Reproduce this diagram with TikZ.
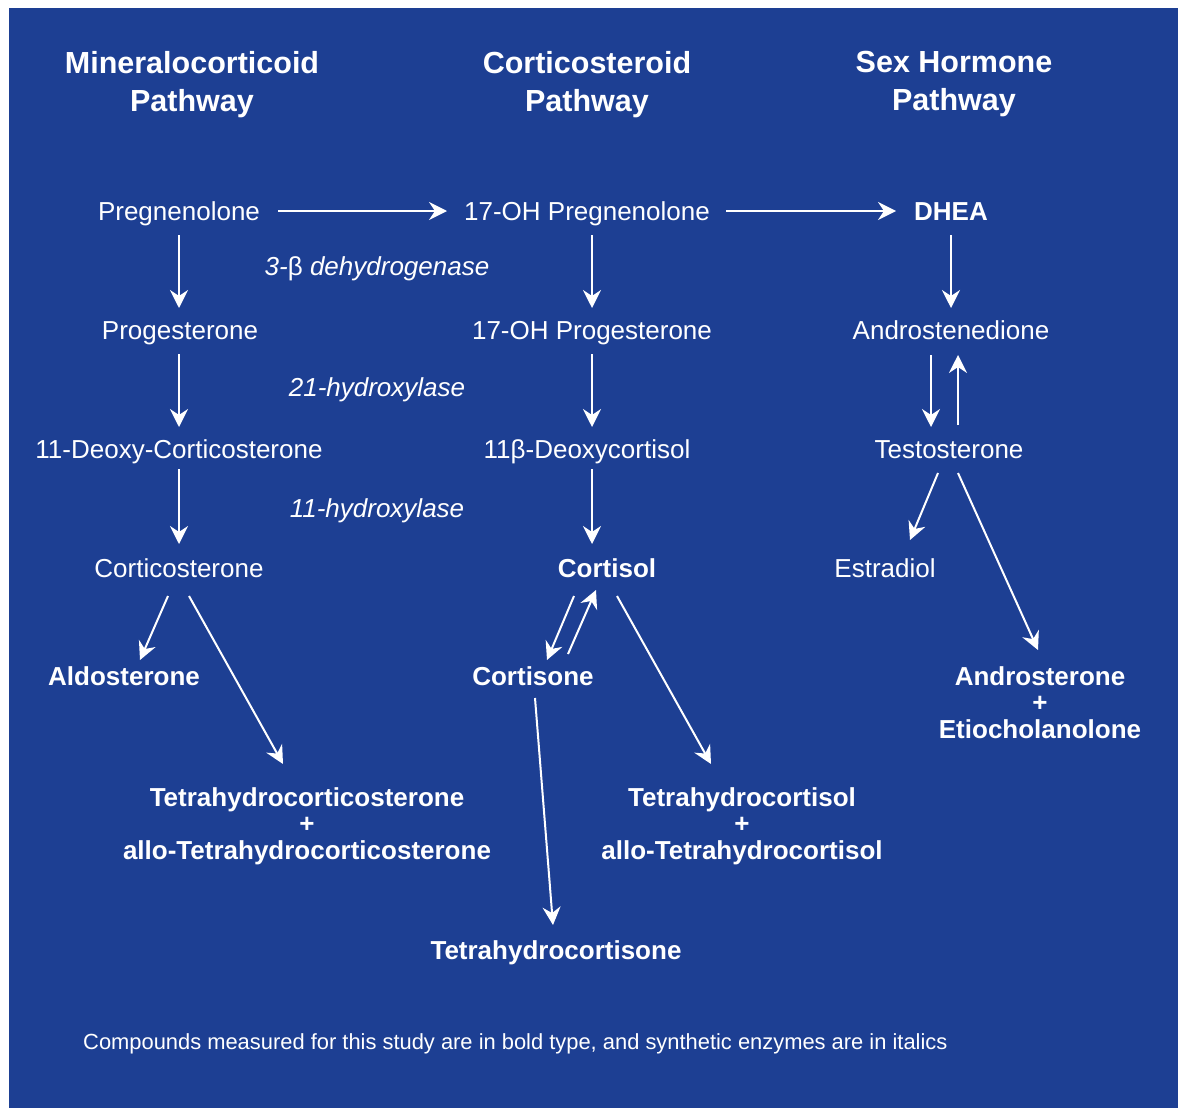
\documentclass[tikz,border=0pt]{standalone}
\usepackage{fontspec}
\setmainfont{Liberation Sans}
\usetikzlibrary{arrows.meta}
\definecolor{bg}{RGB}{29,63,147}
\begin{document}
\begin{tikzpicture}[x=1pt,y=-1pt,
 lbl/.style={text=white, inner sep=0pt, font=\fontsize{26}{27}\selectfont, text height=19pt, text depth=0pt},
 blbl/.style={lbl, font=\fontsize{26}{27}\selectfont\bfseries},
 enz/.style={lbl, font=\fontsize{26}{27}\selectfont\itshape},
 head/.style={text=white, inner sep=0pt, align=center, anchor=north, font=\fontsize{30.5}{38}\selectfont\bfseries},
 multi/.style={text=white, inner sep=0pt, align=center, anchor=north, font=\fontsize{26}{26.5}\selectfont\bfseries},
 arr/.style={draw=white, line width=2pt, -{Stealth[length=18pt,width=18pt,inset=6pt]}}]
\useasboundingbox (0,0) rectangle (1178,1108);
\fill[white] (0,0) rectangle (1178,1108);
\fill[bg] (9,8) rectangle (1178,1108);
% headings
\node[head] (h1) at (192,51) {Mineralocorticoid\\Pathway};
\node[head] (h2) at (587,51) {Corticosteroid\\Pathway};
\node[head] (h3) at (954,51) {Sex Hormone\\Pathway};
% compounds
\node[lbl] (preg) at (179,211) {Pregnenolone};
\node[lbl] (ohpreg) at (587,211) {17-OH Pregnenolone};
\node[blbl] (dhea) at (951,211) {DHEA};
\node[lbl] (prog) at (180,330) {Progesterone};
\node[lbl] (ohprog) at (592,330) {17-OH Progesterone};
\node[lbl] (andro) at (951,330) {Androstenedione};
\node[lbl] (doc) at (179,449) {11-Deoxy-Corticosterone};
\node[lbl] (doxc) at (587,449) {11β-Deoxycortisol};
\node[lbl] (testo) at (949,449) {Testosterone};
\node[lbl] (cort) at (179,568) {Corticosterone};
\node[blbl] (cortisol) at (607,568) {Cortisol};
\node[lbl] (estr) at (885,568) {Estradiol};
\node[blbl] (aldo) at (124,676) {Aldosterone};
\node[blbl] (cortisone) at (533,676) {Cortisone};
\node[multi] (androst) at (1040,666) {Androsterone\\+\\Etiocholanolone};
\node[multi] (thb) at (307,787) {Tetrahydrocorticosterone\\+\\allo-Tetrahydrocorticosterone};
\node[multi] (thf) at (742,787) {Tetrahydrocortisol\\+\\allo-Tetrahydrocortisol};
\node[blbl] (the) at (556,950) {Tetrahydrocortisone};
% enzymes
\node[enz] (e1) at (377,266) {3-{\upshape β} dehydrogenase};
\node[enz] (e2) at (377,387) {21-hydroxylase};
\node[enz] (e3) at (377,508) {11-hydroxylase};
% note
\node[text=white, inner sep=0pt, anchor=west, font=\fontsize{21.9}{26}\selectfont, text height=16pt, text depth=0pt] (note) at (83,1041) {Compounds measured for this study are in bold type, and synthetic enzymes are in italics};
% arrows
\draw[arr] ([xshift=99pt]preg.center) -- ([xshift=-140pt]ohpreg.center);
\draw[arr] ([xshift=139pt]ohpreg.center) -- ([xshift=-55pt]dhea.center);
\draw[arr] ([yshift=-24pt]preg.center) -- ([xshift=-1pt,yshift=22pt]prog.center);
\draw[arr] ([xshift=-1pt,yshift=-24pt]prog.center) -- ([yshift=22pt]doc.center);
\draw[arr] ([yshift=-20pt]doc.center) -- ([yshift=24pt]cort.center);
\draw[arr] ([xshift=5pt,yshift=-24pt]ohpreg.center) -- ([yshift=22pt]ohprog.center);
\draw[arr] ([yshift=-24pt]ohprog.center) -- ([xshift=5pt,yshift=22pt]doxc.center);
\draw[arr] ([xshift=5pt,yshift=-20pt]doxc.center) -- ([xshift=-15pt,yshift=24pt]cortisol.center);
\draw[arr] ([yshift=-24pt]dhea.center) -- ([yshift=22pt]andro.center);
\draw[arr] ([xshift=-20pt,yshift=-25pt]andro.center) -- ([xshift=-18pt,yshift=22pt]testo.center);
\draw[arr] ([xshift=9pt,yshift=24pt]testo.center) -- ([xshift=7pt,yshift=-25pt]andro.center);
\draw[arr] ([xshift=-11pt,yshift=-24pt]testo.center) -- ([xshift=25pt,yshift=28pt]estr.center);
\draw[arr] ([xshift=9pt,yshift=-24pt]testo.center) -- ([xshift=-2pt,yshift=16pt]androst.north);
\draw[arr] ([xshift=-11pt,yshift=-28pt]cort.center) -- ([xshift=16pt,yshift=16pt]aldo.center);
\draw[arr] ([xshift=10pt,yshift=-28pt]cort.center) -- ([xshift=-24pt,yshift=23pt]thb.north);
\draw[arr] ([xshift=-33pt,yshift=-28pt]cortisol.center) -- ([xshift=14pt,yshift=16pt]cortisone.center);
\draw[arr] ([xshift=35pt,yshift=22pt]cortisone.center) -- ([xshift=-11pt,yshift=-22pt]cortisol.center);
\draw[arr] ([xshift=10pt,yshift=-28pt]cortisol.center) -- ([xshift=-31pt,yshift=23pt]thf.north);
\draw[arr] ([xshift=2pt,yshift=-22pt]cortisone.center) -- ([xshift=-3pt,yshift=25pt]the.center);
\end{tikzpicture}
\end{document}
